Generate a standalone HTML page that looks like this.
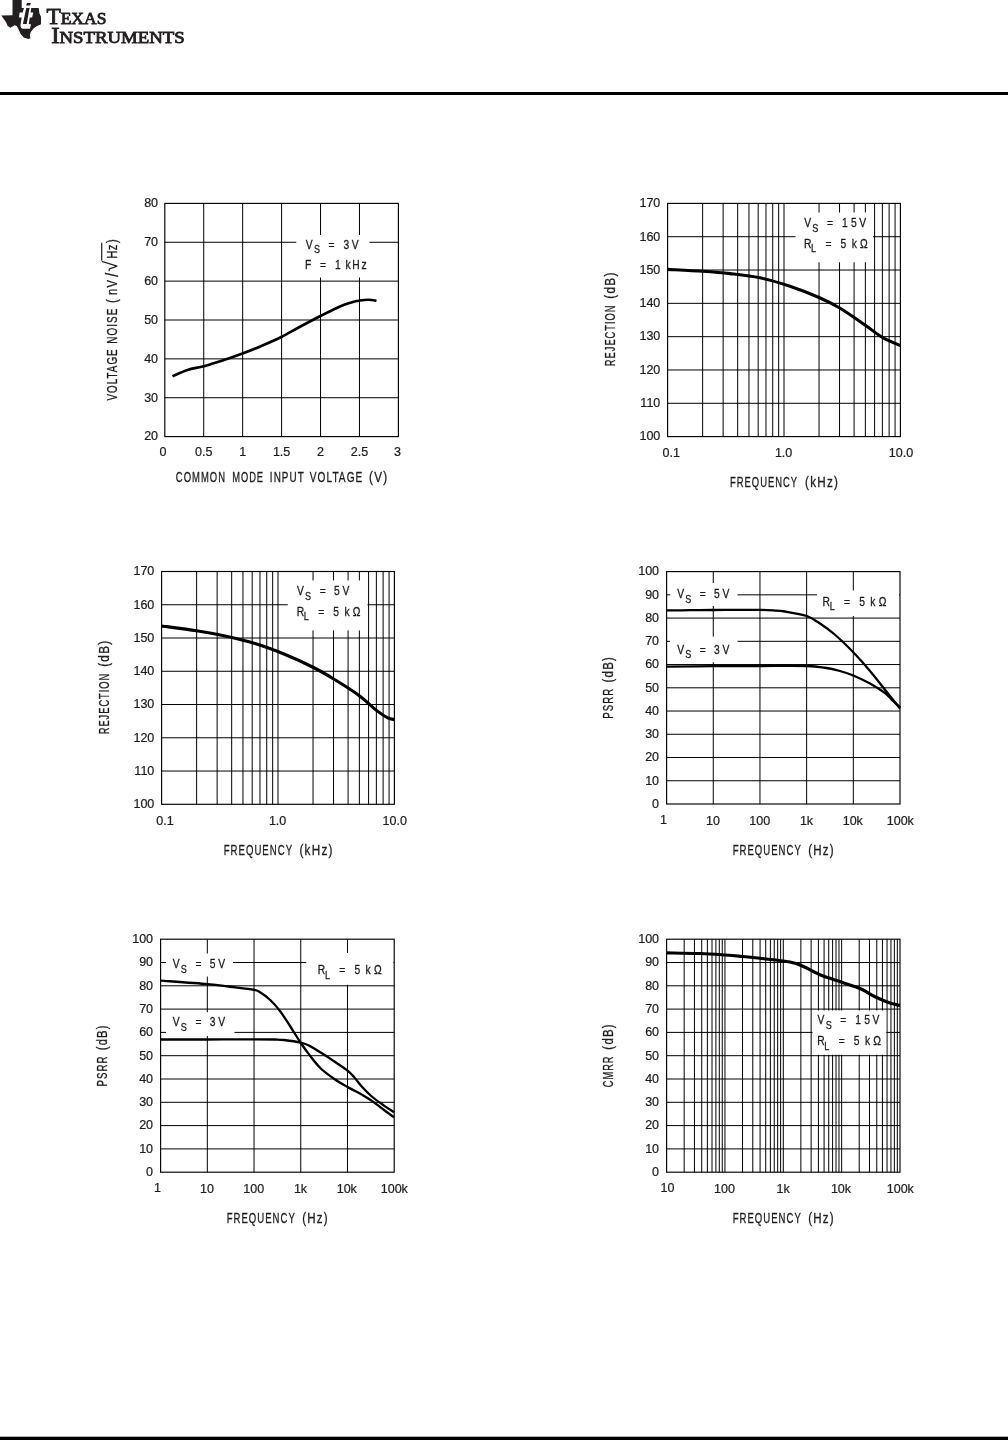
<!DOCTYPE html>
<html lang="en"><head><meta charset="utf-8"><title>Typical Performance Characteristics</title>
<style>html,body{margin:0;padding:0;background:#fff}body{width:1008px;height:1440px;overflow:hidden}svg{display:block}text{white-space:pre}</style></head>
<body>
<svg width="1008" height="1440" viewBox="0 0 1008 1440" font-family="&quot;Liberation Sans&quot;, sans-serif">
<rect width="1008" height="1440" fill="#fff"/>
<rect x="0.00" y="92.00" width="1008.00" height="3.00" fill="#000"/>
<rect x="0.00" y="1436.70" width="1008.00" height="3.30" fill="#000"/>
<g id="logo">
<path fill="#231f20" d="M12.5,0 L21.7,0 L21.7,7.9 L24,8.1 L22.6,12.5 L19.6,12.5 L19,17.5 L21.7,17.5 L20.4,25.8 Q20.6,28.6 22.8,28.75 L30,28.75 L31,24.2 L28.75,24 L29.8,17.5 L32.1,17.5 L33.3,12.5 L30.6,12.5 L31.25,8.1 L38.75,8.1 L39.4,13.3 L41,16.7 L41,24.2 L37.5,25.8 L33.75,28.3 L30.8,32.1 L29.8,35 L30.4,38.3 L28.3,39 L23.75,37.5 L20.8,34.2 L18.3,28.75 L16.7,26 L14.6,25.2 L10.4,27.7 L7.5,25.8 L6.25,22.5 L1.25,15.4 L12.5,15.2 Z"/>
<path fill="#231f20" d="M26.25,8.1 L29.6,8.1 L26.7,24 L22.9,24 Z M27.0,2.9 L30.8,2.9 L30.1,5.6 L26.2,5.6 Z"/>
<g font-family="&quot;Liberation Serif&quot;, serif" fill="#231f20" stroke="#231f20" stroke-width="0.85">
<text x="46.4" y="23.8" font-size="17" textLength="60" lengthAdjust="spacingAndGlyphs"><tspan font-size="22.7">T</tspan>EXAS</text>
<text x="51.2" y="42.5" font-size="17" textLength="133.5" lengthAdjust="spacingAndGlyphs"><tspan font-size="22.7">I</tspan>NSTRUMENTS</text>
</g></g>
<line x1="203.73" y1="203.40" x2="203.73" y2="436.60" stroke="#000" stroke-width="1"/>
<line x1="242.67" y1="203.40" x2="242.67" y2="436.60" stroke="#000" stroke-width="1"/>
<line x1="281.60" y1="203.40" x2="281.60" y2="436.60" stroke="#000" stroke-width="1"/>
<line x1="320.53" y1="203.40" x2="320.53" y2="436.60" stroke="#000" stroke-width="1"/>
<line x1="359.47" y1="203.40" x2="359.47" y2="436.60" stroke="#000" stroke-width="1"/>
<line x1="164.80" y1="242.27" x2="398.40" y2="242.27" stroke="#000" stroke-width="1"/>
<line x1="164.80" y1="281.13" x2="398.40" y2="281.13" stroke="#000" stroke-width="1"/>
<line x1="164.80" y1="320.00" x2="398.40" y2="320.00" stroke="#000" stroke-width="1"/>
<line x1="164.80" y1="358.87" x2="398.40" y2="358.87" stroke="#000" stroke-width="1"/>
<line x1="164.80" y1="397.73" x2="398.40" y2="397.73" stroke="#000" stroke-width="1"/>
<rect x="296.30" y="235.00" width="73.20" height="42.50" fill="#fff"/>
<rect x="164.80" y="203.40" width="233.60" height="233.20" fill="none" stroke="#000" stroke-width="1.15"/>
<path d="M172.50,376.25 C175.00,375.21 182.29,371.67 187.50,370.00 C192.71,368.33 197.92,367.83 203.75,366.25 C209.58,364.67 216.04,362.62 222.50,360.50 C228.96,358.38 235.83,356.00 242.50,353.50 C249.17,351.00 255.96,348.29 262.50,345.50 C269.04,342.71 275.50,339.88 281.75,336.75 C288.00,333.62 293.62,330.17 300.00,326.75 C306.38,323.33 313.33,319.62 320.00,316.25 C326.67,312.88 334.79,308.79 340.00,306.50 C345.21,304.21 347.92,303.50 351.25,302.50 C354.58,301.50 357.08,300.96 360.00,300.50 C362.92,300.04 366.00,299.71 368.75,299.75 C371.50,299.79 375.21,300.58 376.50,300.75" fill="none" stroke="#000" stroke-width="2.7" stroke-linejoin="round"/>
<text x="158.10" y="207.20" textLength="13.95" lengthAdjust="spacingAndGlyphs" font-size="13" text-anchor="end" fill="#1c1c1c" stroke="#1c1c1c" stroke-width="0.22">80</text>
<text x="158.10" y="246.07" textLength="13.95" lengthAdjust="spacingAndGlyphs" font-size="13" text-anchor="end" fill="#1c1c1c" stroke="#1c1c1c" stroke-width="0.22">70</text>
<text x="158.10" y="284.93" textLength="13.95" lengthAdjust="spacingAndGlyphs" font-size="13" text-anchor="end" fill="#1c1c1c" stroke="#1c1c1c" stroke-width="0.22">60</text>
<text x="158.10" y="323.80" textLength="13.95" lengthAdjust="spacingAndGlyphs" font-size="13" text-anchor="end" fill="#1c1c1c" stroke="#1c1c1c" stroke-width="0.22">50</text>
<text x="158.10" y="362.67" textLength="13.95" lengthAdjust="spacingAndGlyphs" font-size="13" text-anchor="end" fill="#1c1c1c" stroke="#1c1c1c" stroke-width="0.22">40</text>
<text x="158.10" y="401.53" textLength="13.95" lengthAdjust="spacingAndGlyphs" font-size="13" text-anchor="end" fill="#1c1c1c" stroke="#1c1c1c" stroke-width="0.22">30</text>
<text x="158.10" y="440.40" textLength="13.95" lengthAdjust="spacingAndGlyphs" font-size="13" text-anchor="end" fill="#1c1c1c" stroke="#1c1c1c" stroke-width="0.22">20</text>
<text x="163.00" y="456.20" textLength="6.98" lengthAdjust="spacingAndGlyphs" font-size="13" text-anchor="middle" fill="#1c1c1c" stroke="#1c1c1c" stroke-width="0.22">0</text>
<text x="203.73" y="456.20" textLength="17.44" lengthAdjust="spacingAndGlyphs" font-size="13" text-anchor="middle" fill="#1c1c1c" stroke="#1c1c1c" stroke-width="0.22">0.5</text>
<text x="242.67" y="456.20" textLength="6.98" lengthAdjust="spacingAndGlyphs" font-size="13" text-anchor="middle" fill="#1c1c1c" stroke="#1c1c1c" stroke-width="0.22">1</text>
<text x="281.60" y="456.20" textLength="17.44" lengthAdjust="spacingAndGlyphs" font-size="13" text-anchor="middle" fill="#1c1c1c" stroke="#1c1c1c" stroke-width="0.22">1.5</text>
<text x="320.53" y="456.20" textLength="6.98" lengthAdjust="spacingAndGlyphs" font-size="13" text-anchor="middle" fill="#1c1c1c" stroke="#1c1c1c" stroke-width="0.22">2</text>
<text x="359.47" y="456.20" textLength="17.44" lengthAdjust="spacingAndGlyphs" font-size="13" text-anchor="middle" fill="#1c1c1c" stroke="#1c1c1c" stroke-width="0.22">2.5</text>
<text x="397.50" y="456.20" textLength="6.98" lengthAdjust="spacingAndGlyphs" font-size="13" text-anchor="middle" fill="#1c1c1c" stroke="#1c1c1c" stroke-width="0.22">3</text>
<text y="481.75" font-size="14" fill="#1c1c1c" stroke="#1c1c1c" stroke-width="0.3" letter-spacing="1.5"><tspan x="175.85" textLength="50.13" lengthAdjust="spacingAndGlyphs">COMMON</tspan> <tspan x="232.15" textLength="31.92" lengthAdjust="spacingAndGlyphs">MODE</tspan> <tspan x="269.85" textLength="34.83" lengthAdjust="spacingAndGlyphs">INPUT</tspan> <tspan x="309.75" textLength="53.62" lengthAdjust="spacingAndGlyphs">VOLTAGE</tspan> <tspan x="369.05" textLength="19.32" lengthAdjust="spacingAndGlyphs">(V)</tspan></text>
<text transform="translate(116.60,400.55) rotate(-90)" y="0" font-size="14" fill="#1c1c1c" stroke="#1c1c1c" stroke-width="0.3" letter-spacing="1.5"><tspan x="0.00" textLength="52.23" lengthAdjust="spacingAndGlyphs">VOLTAGE</tspan> <tspan x="56.90" textLength="35.93" lengthAdjust="spacingAndGlyphs">NOISE</tspan></text>
<text xml:space="preserve" transform="translate(116.60,305.00) rotate(-90) scale(0.8,1)" x="4.69 16.38 26.56 37.75" y="0.00 0.00 0.00 1.20" font-size="14" text-anchor="middle" fill="#1c1c1c" stroke="#1c1c1c" stroke-width="0.3">(nV<tspan font-size="19">/</tspan></text>
<text transform="translate(116.9,271.7) rotate(-90) scale(1.03,1)" x="0" y="0" font-size="19.6" fill="#1c1c1c">√</text>
<line x1="101.70" y1="260.60" x2="101.70" y2="242.80" stroke="#1c1c1c" stroke-width="1.2"/>
<text xml:space="preserve" transform="translate(116.60,258.20) rotate(-90) scale(0.8,1)" x="4.25 13.37 21.25" y="0" font-size="14" text-anchor="middle" fill="#1c1c1c" stroke="#1c1c1c" stroke-width="0.3">Hz)</text>
<text xml:space="preserve" transform="translate(0,248.75) scale(0.78,1)" x="396.41 406.54 415.51 424.87 434.74 444.10 455.38" y="0.00 4.60 0.00 0.00 0.00 0.00 0.00" font-size="13.2" text-anchor="middle" fill="#1c1c1c" stroke="#1c1c1c" stroke-width="0.3">V<tspan font-size="11.6">S</tspan> = 3V</text>
<text xml:space="preserve" transform="translate(0,269.40) scale(0.78,1)" x="395.13 404.49 413.97 423.08 433.21 439.74 446.41 456.41 466.79" y="0" font-size="13.2" text-anchor="middle" fill="#1c1c1c" stroke="#1c1c1c" stroke-width="0.3">F = 1 kHz</text>
<line x1="702.64" y1="203.40" x2="702.64" y2="436.60" stroke="#000" stroke-width="1"/>
<line x1="723.14" y1="203.40" x2="723.14" y2="436.60" stroke="#000" stroke-width="1"/>
<line x1="737.68" y1="203.40" x2="737.68" y2="436.60" stroke="#000" stroke-width="1"/>
<line x1="748.96" y1="203.40" x2="748.96" y2="436.60" stroke="#000" stroke-width="1"/>
<line x1="758.18" y1="203.40" x2="758.18" y2="436.60" stroke="#000" stroke-width="1"/>
<line x1="765.97" y1="203.40" x2="765.97" y2="436.60" stroke="#000" stroke-width="1"/>
<line x1="772.72" y1="203.40" x2="772.72" y2="436.60" stroke="#000" stroke-width="1"/>
<line x1="778.67" y1="203.40" x2="778.67" y2="436.60" stroke="#000" stroke-width="1"/>
<line x1="784.00" y1="203.40" x2="784.00" y2="436.60" stroke="#000" stroke-width="1"/>
<line x1="819.04" y1="203.40" x2="819.04" y2="436.60" stroke="#000" stroke-width="1"/>
<line x1="839.54" y1="203.40" x2="839.54" y2="436.60" stroke="#000" stroke-width="1"/>
<line x1="854.08" y1="203.40" x2="854.08" y2="436.60" stroke="#000" stroke-width="1"/>
<line x1="865.36" y1="203.40" x2="865.36" y2="436.60" stroke="#000" stroke-width="1"/>
<line x1="874.58" y1="203.40" x2="874.58" y2="436.60" stroke="#000" stroke-width="1"/>
<line x1="882.37" y1="203.40" x2="882.37" y2="436.60" stroke="#000" stroke-width="1"/>
<line x1="889.12" y1="203.40" x2="889.12" y2="436.60" stroke="#000" stroke-width="1"/>
<line x1="895.07" y1="203.40" x2="895.07" y2="436.60" stroke="#000" stroke-width="1"/>
<line x1="667.60" y1="236.71" x2="900.40" y2="236.71" stroke="#000" stroke-width="1"/>
<line x1="667.60" y1="270.03" x2="900.40" y2="270.03" stroke="#000" stroke-width="1"/>
<line x1="667.60" y1="303.34" x2="900.40" y2="303.34" stroke="#000" stroke-width="1"/>
<line x1="667.60" y1="336.66" x2="900.40" y2="336.66" stroke="#000" stroke-width="1"/>
<line x1="667.60" y1="369.97" x2="900.40" y2="369.97" stroke="#000" stroke-width="1"/>
<line x1="667.60" y1="403.29" x2="900.40" y2="403.29" stroke="#000" stroke-width="1"/>
<rect x="795.60" y="212.50" width="77.40" height="49.80" fill="#fff"/>
<rect x="667.60" y="203.40" width="232.80" height="233.20" fill="none" stroke="#000" stroke-width="1.15"/>
<path d="M667.60,269.40 C673.43,269.72 692.20,270.60 702.60,271.30 C713.00,272.00 720.43,272.52 730.00,273.60 C739.57,274.68 750.00,275.69 760.00,277.80 C770.00,279.91 780.17,282.97 790.00,286.25 C799.83,289.53 810.71,293.88 819.00,297.50 C827.29,301.12 832.08,303.42 839.75,308.00 C847.42,312.58 857.88,320.08 865.00,325.00 C872.12,329.92 876.60,334.07 882.50,337.50 C888.40,340.93 897.42,344.25 900.40,345.60" fill="none" stroke="#000" stroke-width="3.1" stroke-linejoin="round"/>
<text x="660.35" y="207.20" textLength="20.93" lengthAdjust="spacingAndGlyphs" font-size="13" text-anchor="end" fill="#1c1c1c" stroke="#1c1c1c" stroke-width="0.22">170</text>
<text x="660.35" y="240.51" textLength="20.93" lengthAdjust="spacingAndGlyphs" font-size="13" text-anchor="end" fill="#1c1c1c" stroke="#1c1c1c" stroke-width="0.22">160</text>
<text x="660.35" y="273.83" textLength="20.93" lengthAdjust="spacingAndGlyphs" font-size="13" text-anchor="end" fill="#1c1c1c" stroke="#1c1c1c" stroke-width="0.22">150</text>
<text x="660.35" y="307.14" textLength="20.93" lengthAdjust="spacingAndGlyphs" font-size="13" text-anchor="end" fill="#1c1c1c" stroke="#1c1c1c" stroke-width="0.22">140</text>
<text x="660.35" y="340.46" textLength="20.93" lengthAdjust="spacingAndGlyphs" font-size="13" text-anchor="end" fill="#1c1c1c" stroke="#1c1c1c" stroke-width="0.22">130</text>
<text x="660.35" y="373.77" textLength="20.93" lengthAdjust="spacingAndGlyphs" font-size="13" text-anchor="end" fill="#1c1c1c" stroke="#1c1c1c" stroke-width="0.22">120</text>
<text x="660.35" y="407.09" textLength="20.00" lengthAdjust="spacingAndGlyphs" font-size="13" text-anchor="end" fill="#1c1c1c" stroke="#1c1c1c" stroke-width="0.22">110</text>
<text x="660.35" y="440.40" textLength="20.93" lengthAdjust="spacingAndGlyphs" font-size="13" text-anchor="end" fill="#1c1c1c" stroke="#1c1c1c" stroke-width="0.22">100</text>
<text x="671.20" y="457.00" textLength="17.44" lengthAdjust="spacingAndGlyphs" font-size="13" text-anchor="middle" fill="#1c1c1c" stroke="#1c1c1c" stroke-width="0.22">0.1</text>
<text x="783.60" y="457.00" textLength="17.44" lengthAdjust="spacingAndGlyphs" font-size="13" text-anchor="middle" fill="#1c1c1c" stroke="#1c1c1c" stroke-width="0.22">1.0</text>
<text x="901.00" y="457.00" textLength="24.42" lengthAdjust="spacingAndGlyphs" font-size="13" text-anchor="middle" fill="#1c1c1c" stroke="#1c1c1c" stroke-width="0.22">10.0</text>
<text y="487.00" font-size="14" fill="#1c1c1c" stroke="#1c1c1c" stroke-width="0.3" letter-spacing="1.5"><tspan x="730.05" textLength="67.87" lengthAdjust="spacingAndGlyphs">FREQUENCY</tspan> <tspan x="805.05" textLength="34.12" lengthAdjust="spacingAndGlyphs">(kHz)</tspan></text>
<text transform="translate(614.50,366.15) rotate(-90)" y="0" font-size="14.2" fill="#1c1c1c" stroke="#1c1c1c" stroke-width="0.3" letter-spacing="1.5"><tspan x="0.00" textLength="61.58" lengthAdjust="spacingAndGlyphs">REJECTION</tspan> <tspan x="67.50" textLength="27.23" lengthAdjust="spacingAndGlyphs">(dB)</tspan></text>
<text xml:space="preserve" transform="translate(0,227.25) scale(0.78,1)" x="1035.64 1045.38 1054.49 1064.10 1073.08 1083.08 1094.74 1105.90" y="0.00 4.60 0.00 0.00 0.00 0.00 0.00 0.00" font-size="13.2" text-anchor="middle" fill="#1c1c1c" stroke="#1c1c1c" stroke-width="0.3">V<tspan font-size="11.6">S</tspan> = 15V</text>
<text xml:space="preserve" transform="translate(0,247.75) scale(0.78,1)" x="1035.51 1043.08 1052.44 1062.18 1071.67 1081.41 1088.33 1095.26 1107.56" y="0.00 4.60 0.00 0.00 0.00 0.00 0.00 0.00 0.00" font-size="13.2" text-anchor="middle" fill="#1c1c1c" stroke="#1c1c1c" stroke-width="0.3">R<tspan font-size="11.6">L</tspan> = 5 kΩ</text>
<line x1="196.64" y1="571.50" x2="196.64" y2="804.30" stroke="#000" stroke-width="1"/>
<line x1="217.14" y1="571.50" x2="217.14" y2="804.30" stroke="#000" stroke-width="1"/>
<line x1="231.68" y1="571.50" x2="231.68" y2="804.30" stroke="#000" stroke-width="1"/>
<line x1="242.96" y1="571.50" x2="242.96" y2="804.30" stroke="#000" stroke-width="1"/>
<line x1="252.18" y1="571.50" x2="252.18" y2="804.30" stroke="#000" stroke-width="1"/>
<line x1="259.97" y1="571.50" x2="259.97" y2="804.30" stroke="#000" stroke-width="1"/>
<line x1="266.72" y1="571.50" x2="266.72" y2="804.30" stroke="#000" stroke-width="1"/>
<line x1="272.67" y1="571.50" x2="272.67" y2="804.30" stroke="#000" stroke-width="1"/>
<line x1="278.00" y1="571.50" x2="278.00" y2="804.30" stroke="#000" stroke-width="1"/>
<line x1="313.04" y1="571.50" x2="313.04" y2="804.30" stroke="#000" stroke-width="1"/>
<line x1="333.54" y1="571.50" x2="333.54" y2="804.30" stroke="#000" stroke-width="1"/>
<line x1="348.08" y1="571.50" x2="348.08" y2="804.30" stroke="#000" stroke-width="1"/>
<line x1="359.36" y1="571.50" x2="359.36" y2="804.30" stroke="#000" stroke-width="1"/>
<line x1="368.58" y1="571.50" x2="368.58" y2="804.30" stroke="#000" stroke-width="1"/>
<line x1="376.37" y1="571.50" x2="376.37" y2="804.30" stroke="#000" stroke-width="1"/>
<line x1="383.12" y1="571.50" x2="383.12" y2="804.30" stroke="#000" stroke-width="1"/>
<line x1="389.07" y1="571.50" x2="389.07" y2="804.30" stroke="#000" stroke-width="1"/>
<line x1="161.60" y1="604.76" x2="394.40" y2="604.76" stroke="#000" stroke-width="1"/>
<line x1="161.60" y1="638.01" x2="394.40" y2="638.01" stroke="#000" stroke-width="1"/>
<line x1="161.60" y1="671.27" x2="394.40" y2="671.27" stroke="#000" stroke-width="1"/>
<line x1="161.60" y1="704.53" x2="394.40" y2="704.53" stroke="#000" stroke-width="1"/>
<line x1="161.60" y1="737.79" x2="394.40" y2="737.79" stroke="#000" stroke-width="1"/>
<line x1="161.60" y1="771.04" x2="394.40" y2="771.04" stroke="#000" stroke-width="1"/>
<rect x="287.75" y="580.40" width="79.75" height="50.00" fill="#fff"/>
<rect x="161.60" y="571.50" width="232.80" height="232.80" fill="none" stroke="#000" stroke-width="1.15"/>
<path d="M161.60,626.00 C167.43,626.79 186.03,629.08 196.60,630.75 C207.17,632.42 215.27,633.88 225.00,636.00 C234.73,638.12 245.17,640.50 255.00,643.50 C264.83,646.50 274.33,650.04 284.00,654.00 C293.67,657.96 304.71,663.08 313.00,667.25 C321.29,671.42 326.08,674.31 333.75,679.00 C341.42,683.69 351.88,690.17 359.00,695.40 C366.12,700.63 371.71,706.65 376.50,710.40 C381.29,714.15 384.77,716.38 387.75,717.90 C390.73,719.42 393.29,719.23 394.40,719.50" fill="none" stroke="#000" stroke-width="3.1" stroke-linejoin="round"/>
<text x="154.35" y="575.30" textLength="20.93" lengthAdjust="spacingAndGlyphs" font-size="13" text-anchor="end" fill="#1c1c1c" stroke="#1c1c1c" stroke-width="0.22">170</text>
<text x="154.35" y="608.56" textLength="20.93" lengthAdjust="spacingAndGlyphs" font-size="13" text-anchor="end" fill="#1c1c1c" stroke="#1c1c1c" stroke-width="0.22">160</text>
<text x="154.35" y="641.81" textLength="20.93" lengthAdjust="spacingAndGlyphs" font-size="13" text-anchor="end" fill="#1c1c1c" stroke="#1c1c1c" stroke-width="0.22">150</text>
<text x="154.35" y="675.07" textLength="20.93" lengthAdjust="spacingAndGlyphs" font-size="13" text-anchor="end" fill="#1c1c1c" stroke="#1c1c1c" stroke-width="0.22">140</text>
<text x="154.35" y="708.33" textLength="20.93" lengthAdjust="spacingAndGlyphs" font-size="13" text-anchor="end" fill="#1c1c1c" stroke="#1c1c1c" stroke-width="0.22">130</text>
<text x="154.35" y="741.59" textLength="20.93" lengthAdjust="spacingAndGlyphs" font-size="13" text-anchor="end" fill="#1c1c1c" stroke="#1c1c1c" stroke-width="0.22">120</text>
<text x="154.35" y="774.84" textLength="20.00" lengthAdjust="spacingAndGlyphs" font-size="13" text-anchor="end" fill="#1c1c1c" stroke="#1c1c1c" stroke-width="0.22">110</text>
<text x="154.35" y="808.10" textLength="20.93" lengthAdjust="spacingAndGlyphs" font-size="13" text-anchor="end" fill="#1c1c1c" stroke="#1c1c1c" stroke-width="0.22">100</text>
<text x="165.00" y="825.00" textLength="17.44" lengthAdjust="spacingAndGlyphs" font-size="13" text-anchor="middle" fill="#1c1c1c" stroke="#1c1c1c" stroke-width="0.22">0.1</text>
<text x="277.60" y="825.00" textLength="17.44" lengthAdjust="spacingAndGlyphs" font-size="13" text-anchor="middle" fill="#1c1c1c" stroke="#1c1c1c" stroke-width="0.22">1.0</text>
<text x="394.80" y="825.00" textLength="24.42" lengthAdjust="spacingAndGlyphs" font-size="13" text-anchor="middle" fill="#1c1c1c" stroke="#1c1c1c" stroke-width="0.22">10.0</text>
<text y="855.00" font-size="14" fill="#1c1c1c" stroke="#1c1c1c" stroke-width="0.3" letter-spacing="1.5"><tspan x="223.70" textLength="69.22" lengthAdjust="spacingAndGlyphs">FREQUENCY</tspan> <tspan x="299.45" textLength="34.23" lengthAdjust="spacingAndGlyphs">(kHz)</tspan></text>
<text transform="translate(108.50,734.30) rotate(-90)" y="0" font-size="14.2" fill="#1c1c1c" stroke="#1c1c1c" stroke-width="0.3" letter-spacing="1.5"><tspan x="0.00" textLength="61.58" lengthAdjust="spacingAndGlyphs">REJECTION</tspan> <tspan x="67.50" textLength="27.23" lengthAdjust="spacingAndGlyphs">(dB)</tspan></text>
<text xml:space="preserve" transform="translate(0,595.40) scale(0.78,1)" x="385.32 395.06 404.17 413.78 422.76 431.99 443.53" y="0.00 4.60 0.00 0.00 0.00 0.00 0.00" font-size="13.2" text-anchor="middle" fill="#1c1c1c" stroke="#1c1c1c" stroke-width="0.3">V<tspan font-size="11.6">S</tspan> = 5V</text>
<text xml:space="preserve" transform="translate(0,615.75) scale(0.78,1)" x="385.13 392.69 402.05 411.79 421.28 431.03 437.95 444.87 457.18" y="0.00 4.60 0.00 0.00 0.00 0.00 0.00 0.00 0.00" font-size="13.2" text-anchor="middle" fill="#1c1c1c" stroke="#1c1c1c" stroke-width="0.3">R<tspan font-size="11.6">L</tspan> = 5 kΩ</text>
<line x1="713.28" y1="571.60" x2="713.28" y2="804.00" stroke="#000" stroke-width="1"/>
<line x1="759.96" y1="571.60" x2="759.96" y2="804.00" stroke="#000" stroke-width="1"/>
<line x1="806.64" y1="571.60" x2="806.64" y2="804.00" stroke="#000" stroke-width="1"/>
<line x1="853.32" y1="571.60" x2="853.32" y2="804.00" stroke="#000" stroke-width="1"/>
<line x1="666.60" y1="594.84" x2="900.00" y2="594.84" stroke="#000" stroke-width="1"/>
<line x1="666.60" y1="618.08" x2="900.00" y2="618.08" stroke="#000" stroke-width="1"/>
<line x1="666.60" y1="641.32" x2="900.00" y2="641.32" stroke="#000" stroke-width="1"/>
<line x1="666.60" y1="664.56" x2="900.00" y2="664.56" stroke="#000" stroke-width="1"/>
<line x1="666.60" y1="687.80" x2="900.00" y2="687.80" stroke="#000" stroke-width="1"/>
<line x1="666.60" y1="711.04" x2="900.00" y2="711.04" stroke="#000" stroke-width="1"/>
<line x1="666.60" y1="734.28" x2="900.00" y2="734.28" stroke="#000" stroke-width="1"/>
<line x1="666.60" y1="757.52" x2="900.00" y2="757.52" stroke="#000" stroke-width="1"/>
<line x1="666.60" y1="780.76" x2="900.00" y2="780.76" stroke="#000" stroke-width="1"/>
<rect x="670.00" y="583.00" width="67.50" height="23.00" fill="#fff"/>
<rect x="670.00" y="636.60" width="67.50" height="25.65" fill="#fff"/>
<rect x="817.00" y="590.40" width="82.00" height="25.60" fill="#fff"/>
<rect x="666.60" y="571.60" width="233.40" height="232.40" fill="none" stroke="#000" stroke-width="1.15"/>
<path d="M666.60,610.40 C670.50,610.37 682.27,610.27 690.00,610.20 C697.73,610.13 705.17,610.06 713.00,610.00 C720.83,609.94 729.17,609.87 737.00,609.85 C744.83,609.83 754.00,609.81 760.00,609.90 C766.00,609.99 768.83,610.13 773.00,610.40 C777.17,610.67 779.38,610.57 785.00,611.50 C790.62,612.43 800.92,614.00 806.75,616.00 C812.58,618.00 815.29,620.38 820.00,623.50 C824.71,626.62 829.46,629.96 835.00,634.75 C840.54,639.54 847.42,646.21 853.25,652.25 C859.08,658.29 864.71,664.75 870.00,671.00 C875.29,677.25 880.00,683.50 885.00,689.75 C890.00,696.00 897.50,705.38 900.00,708.50" fill="none" stroke="#000" stroke-width="2.3" stroke-linejoin="round"/>
<path d="M666.60,666.60 C674.33,666.53 697.43,666.30 713.00,666.20 C728.57,666.10 744.38,666.03 760.00,666.00 C775.62,665.97 795.92,665.71 806.75,666.00 C817.58,666.29 819.46,666.92 825.00,667.75 C830.54,668.58 835.29,669.71 840.00,671.00 C844.71,672.29 848.25,673.42 853.25,675.50 C858.25,677.58 864.71,680.58 870.00,683.50 C875.29,686.42 881.17,690.08 885.00,693.00 C888.83,695.92 890.50,698.62 893.00,701.00 C895.50,703.38 898.83,706.21 900.00,707.25" fill="none" stroke="#000" stroke-width="2.3" stroke-linejoin="round"/>
<text x="659.10" y="575.40" textLength="20.93" lengthAdjust="spacingAndGlyphs" font-size="13" text-anchor="end" fill="#1c1c1c" stroke="#1c1c1c" stroke-width="0.22">100</text>
<text x="659.10" y="598.64" textLength="13.95" lengthAdjust="spacingAndGlyphs" font-size="13" text-anchor="end" fill="#1c1c1c" stroke="#1c1c1c" stroke-width="0.22">90</text>
<text x="659.10" y="621.88" textLength="13.95" lengthAdjust="spacingAndGlyphs" font-size="13" text-anchor="end" fill="#1c1c1c" stroke="#1c1c1c" stroke-width="0.22">80</text>
<text x="659.10" y="645.12" textLength="13.95" lengthAdjust="spacingAndGlyphs" font-size="13" text-anchor="end" fill="#1c1c1c" stroke="#1c1c1c" stroke-width="0.22">70</text>
<text x="659.10" y="668.36" textLength="13.95" lengthAdjust="spacingAndGlyphs" font-size="13" text-anchor="end" fill="#1c1c1c" stroke="#1c1c1c" stroke-width="0.22">60</text>
<text x="659.10" y="691.60" textLength="13.95" lengthAdjust="spacingAndGlyphs" font-size="13" text-anchor="end" fill="#1c1c1c" stroke="#1c1c1c" stroke-width="0.22">50</text>
<text x="659.10" y="714.84" textLength="13.95" lengthAdjust="spacingAndGlyphs" font-size="13" text-anchor="end" fill="#1c1c1c" stroke="#1c1c1c" stroke-width="0.22">40</text>
<text x="659.10" y="738.08" textLength="13.95" lengthAdjust="spacingAndGlyphs" font-size="13" text-anchor="end" fill="#1c1c1c" stroke="#1c1c1c" stroke-width="0.22">30</text>
<text x="659.10" y="761.32" textLength="13.95" lengthAdjust="spacingAndGlyphs" font-size="13" text-anchor="end" fill="#1c1c1c" stroke="#1c1c1c" stroke-width="0.22">20</text>
<text x="659.10" y="784.56" textLength="13.95" lengthAdjust="spacingAndGlyphs" font-size="13" text-anchor="end" fill="#1c1c1c" stroke="#1c1c1c" stroke-width="0.22">10</text>
<text x="659.10" y="807.80" textLength="6.98" lengthAdjust="spacingAndGlyphs" font-size="13" text-anchor="end" fill="#1c1c1c" stroke="#1c1c1c" stroke-width="0.22">0</text>
<text x="663.40" y="823.80" textLength="6.98" lengthAdjust="spacingAndGlyphs" font-size="13" text-anchor="middle" fill="#1c1c1c" stroke="#1c1c1c" stroke-width="0.22">1</text>
<text x="713.00" y="825.00" textLength="13.95" lengthAdjust="spacingAndGlyphs" font-size="13" text-anchor="middle" fill="#1c1c1c" stroke="#1c1c1c" stroke-width="0.22">10</text>
<text x="759.80" y="825.00" textLength="20.93" lengthAdjust="spacingAndGlyphs" font-size="13" text-anchor="middle" fill="#1c1c1c" stroke="#1c1c1c" stroke-width="0.22">100</text>
<text x="806.50" y="825.00" textLength="13.25" lengthAdjust="spacingAndGlyphs" font-size="13" text-anchor="middle" fill="#1c1c1c" stroke="#1c1c1c" stroke-width="0.22">1k</text>
<text x="852.80" y="825.00" textLength="20.23" lengthAdjust="spacingAndGlyphs" font-size="13" text-anchor="middle" fill="#1c1c1c" stroke="#1c1c1c" stroke-width="0.22">10k</text>
<text x="900.30" y="825.00" textLength="27.20" lengthAdjust="spacingAndGlyphs" font-size="13" text-anchor="middle" fill="#1c1c1c" stroke="#1c1c1c" stroke-width="0.22">100k</text>
<text y="855.00" font-size="14" fill="#1c1c1c" stroke="#1c1c1c" stroke-width="0.3" letter-spacing="1.5"><tspan x="732.70" textLength="68.97" lengthAdjust="spacingAndGlyphs">FREQUENCY</tspan> <tspan x="808.20" textLength="26.73" lengthAdjust="spacingAndGlyphs">(Hz)</tspan></text>
<text transform="translate(613.25,718.65) rotate(-90)" y="0" font-size="14.2" fill="#1c1c1c" stroke="#1c1c1c" stroke-width="0.3" letter-spacing="1.5"><tspan x="0.00" textLength="30.93" lengthAdjust="spacingAndGlyphs">PSRR</tspan> <tspan x="36.20" textLength="26.62" lengthAdjust="spacingAndGlyphs">(dB)</tspan></text>
<text xml:space="preserve" transform="translate(0,597.90) scale(0.78,1)" x="872.56 882.31 891.41 901.03 910.00 919.23 930.77" y="0.00 4.60 0.00 0.00 0.00 0.00 0.00" font-size="13.2" text-anchor="middle" fill="#1c1c1c" stroke="#1c1c1c" stroke-width="0.3">V<tspan font-size="11.6">S</tspan> = 5V</text>
<text xml:space="preserve" transform="translate(0,653.50) scale(0.78,1)" x="872.56 882.31 891.41 901.03 910.00 919.23 930.77" y="0.00 4.60 0.00 0.00 0.00 0.00 0.00" font-size="13.2" text-anchor="middle" fill="#1c1c1c" stroke="#1c1c1c" stroke-width="0.3">V<tspan font-size="11.6">S</tspan> = 3V</text>
<text xml:space="preserve" transform="translate(0,605.75) scale(0.78,1)" x="1059.36 1066.92 1076.28 1086.03 1095.51 1105.26 1112.18 1119.10 1131.41" y="0.00 4.60 0.00 0.00 0.00 0.00 0.00 0.00 0.00" font-size="13.2" text-anchor="middle" fill="#1c1c1c" stroke="#1c1c1c" stroke-width="0.3">R<tspan font-size="11.6">L</tspan> = 5 kΩ</text>
<line x1="207.32" y1="939.20" x2="207.32" y2="1172.20" stroke="#000" stroke-width="1"/>
<line x1="254.04" y1="939.20" x2="254.04" y2="1172.20" stroke="#000" stroke-width="1"/>
<line x1="300.76" y1="939.20" x2="300.76" y2="1172.20" stroke="#000" stroke-width="1"/>
<line x1="347.48" y1="939.20" x2="347.48" y2="1172.20" stroke="#000" stroke-width="1"/>
<line x1="160.60" y1="962.50" x2="394.20" y2="962.50" stroke="#000" stroke-width="1"/>
<line x1="160.60" y1="985.80" x2="394.20" y2="985.80" stroke="#000" stroke-width="1"/>
<line x1="160.60" y1="1009.10" x2="394.20" y2="1009.10" stroke="#000" stroke-width="1"/>
<line x1="160.60" y1="1032.40" x2="394.20" y2="1032.40" stroke="#000" stroke-width="1"/>
<line x1="160.60" y1="1055.70" x2="394.20" y2="1055.70" stroke="#000" stroke-width="1"/>
<line x1="160.60" y1="1079.00" x2="394.20" y2="1079.00" stroke="#000" stroke-width="1"/>
<line x1="160.60" y1="1102.30" x2="394.20" y2="1102.30" stroke="#000" stroke-width="1"/>
<line x1="160.60" y1="1125.60" x2="394.20" y2="1125.60" stroke="#000" stroke-width="1"/>
<line x1="160.60" y1="1148.90" x2="394.20" y2="1148.90" stroke="#000" stroke-width="1"/>
<rect x="166.00" y="953.50" width="67.00" height="23.10" fill="#fff"/>
<rect x="166.00" y="1012.25" width="68.50" height="23.75" fill="#fff"/>
<rect x="306.25" y="953.00" width="87.15" height="31.75" fill="#fff"/>
<rect x="160.60" y="939.20" width="233.60" height="233.00" fill="none" stroke="#000" stroke-width="1.15"/>
<path d="M160.60,980.60 C168.42,981.18 195.93,983.08 207.50,984.10 C219.07,985.12 222.29,985.81 230.00,986.75 C237.71,987.69 248.75,988.83 253.75,989.75 C258.75,990.67 257.29,990.58 260.00,992.25 C262.71,993.92 266.67,996.62 270.00,999.75 C273.33,1002.88 276.67,1006.62 280.00,1011.00 C283.33,1015.38 286.58,1020.75 290.00,1026.00 C293.42,1031.25 297.33,1037.77 300.50,1042.50 C303.67,1047.23 305.71,1050.15 309.00,1054.40 C312.29,1058.65 316.08,1063.94 320.25,1068.00 C324.42,1072.06 329.46,1075.58 334.00,1078.75 C338.54,1081.92 343.33,1084.62 347.50,1087.00 C351.67,1089.38 355.00,1090.73 359.00,1093.00 C363.00,1095.27 367.33,1097.77 371.50,1100.60 C375.67,1103.43 380.25,1107.22 384.00,1110.00 C387.75,1112.78 392.33,1116.04 394.00,1117.25" fill="none" stroke="#000" stroke-width="2.3" stroke-linejoin="round"/>
<path d="M160.60,1039.50 C168.42,1039.50 191.97,1039.53 207.50,1039.50 C223.03,1039.47 242.50,1039.30 253.75,1039.30 C265.00,1039.30 269.96,1039.38 275.00,1039.50 C280.04,1039.62 279.75,1039.50 284.00,1040.00 C288.25,1040.50 296.33,1041.57 300.50,1042.50 C304.67,1043.43 305.50,1043.85 309.00,1045.60 C312.50,1047.35 317.33,1050.39 321.50,1053.00 C325.67,1055.61 329.67,1058.32 334.00,1061.25 C338.33,1064.18 344.17,1067.99 347.50,1070.60 C350.83,1073.21 351.67,1074.29 354.00,1076.90 C356.33,1079.51 358.58,1083.03 361.50,1086.25 C364.42,1089.47 367.75,1093.03 371.50,1096.25 C375.25,1099.47 380.25,1102.93 384.00,1105.60 C387.75,1108.27 392.33,1111.14 394.00,1112.25" fill="none" stroke="#000" stroke-width="2.3" stroke-linejoin="round"/>
<text x="153.10" y="943.00" textLength="20.93" lengthAdjust="spacingAndGlyphs" font-size="13" text-anchor="end" fill="#1c1c1c" stroke="#1c1c1c" stroke-width="0.22">100</text>
<text x="153.10" y="966.30" textLength="13.95" lengthAdjust="spacingAndGlyphs" font-size="13" text-anchor="end" fill="#1c1c1c" stroke="#1c1c1c" stroke-width="0.22">90</text>
<text x="153.10" y="989.60" textLength="13.95" lengthAdjust="spacingAndGlyphs" font-size="13" text-anchor="end" fill="#1c1c1c" stroke="#1c1c1c" stroke-width="0.22">80</text>
<text x="153.10" y="1012.90" textLength="13.95" lengthAdjust="spacingAndGlyphs" font-size="13" text-anchor="end" fill="#1c1c1c" stroke="#1c1c1c" stroke-width="0.22">70</text>
<text x="153.10" y="1036.20" textLength="13.95" lengthAdjust="spacingAndGlyphs" font-size="13" text-anchor="end" fill="#1c1c1c" stroke="#1c1c1c" stroke-width="0.22">60</text>
<text x="153.10" y="1059.50" textLength="13.95" lengthAdjust="spacingAndGlyphs" font-size="13" text-anchor="end" fill="#1c1c1c" stroke="#1c1c1c" stroke-width="0.22">50</text>
<text x="153.10" y="1082.80" textLength="13.95" lengthAdjust="spacingAndGlyphs" font-size="13" text-anchor="end" fill="#1c1c1c" stroke="#1c1c1c" stroke-width="0.22">40</text>
<text x="153.10" y="1106.10" textLength="13.95" lengthAdjust="spacingAndGlyphs" font-size="13" text-anchor="end" fill="#1c1c1c" stroke="#1c1c1c" stroke-width="0.22">30</text>
<text x="153.10" y="1129.40" textLength="13.95" lengthAdjust="spacingAndGlyphs" font-size="13" text-anchor="end" fill="#1c1c1c" stroke="#1c1c1c" stroke-width="0.22">20</text>
<text x="153.10" y="1152.70" textLength="13.95" lengthAdjust="spacingAndGlyphs" font-size="13" text-anchor="end" fill="#1c1c1c" stroke="#1c1c1c" stroke-width="0.22">10</text>
<text x="153.10" y="1176.00" textLength="6.98" lengthAdjust="spacingAndGlyphs" font-size="13" text-anchor="end" fill="#1c1c1c" stroke="#1c1c1c" stroke-width="0.22">0</text>
<text x="157.40" y="1191.80" textLength="6.98" lengthAdjust="spacingAndGlyphs" font-size="13" text-anchor="middle" fill="#1c1c1c" stroke="#1c1c1c" stroke-width="0.22">1</text>
<text x="207.00" y="1193.00" textLength="13.95" lengthAdjust="spacingAndGlyphs" font-size="13" text-anchor="middle" fill="#1c1c1c" stroke="#1c1c1c" stroke-width="0.22">10</text>
<text x="253.80" y="1193.00" textLength="20.93" lengthAdjust="spacingAndGlyphs" font-size="13" text-anchor="middle" fill="#1c1c1c" stroke="#1c1c1c" stroke-width="0.22">100</text>
<text x="300.50" y="1193.00" textLength="13.25" lengthAdjust="spacingAndGlyphs" font-size="13" text-anchor="middle" fill="#1c1c1c" stroke="#1c1c1c" stroke-width="0.22">1k</text>
<text x="346.80" y="1193.00" textLength="20.23" lengthAdjust="spacingAndGlyphs" font-size="13" text-anchor="middle" fill="#1c1c1c" stroke="#1c1c1c" stroke-width="0.22">10k</text>
<text x="394.30" y="1193.00" textLength="27.20" lengthAdjust="spacingAndGlyphs" font-size="13" text-anchor="middle" fill="#1c1c1c" stroke="#1c1c1c" stroke-width="0.22">100k</text>
<text y="1223.00" font-size="14" fill="#1c1c1c" stroke="#1c1c1c" stroke-width="0.3" letter-spacing="1.5"><tspan x="226.70" textLength="68.97" lengthAdjust="spacingAndGlyphs">FREQUENCY</tspan> <tspan x="302.20" textLength="26.73" lengthAdjust="spacingAndGlyphs">(Hz)</tspan></text>
<text transform="translate(107.25,1086.55) rotate(-90)" y="0" font-size="14.2" fill="#1c1c1c" stroke="#1c1c1c" stroke-width="0.3" letter-spacing="1.5"><tspan x="0.00" textLength="30.98" lengthAdjust="spacingAndGlyphs">PSRR</tspan> <tspan x="36.25" textLength="25.98" lengthAdjust="spacingAndGlyphs">(dB)</tspan></text>
<text xml:space="preserve" transform="translate(0,967.90) scale(0.78,1)" x="226.03 235.77 244.87 254.49 263.46 272.69 284.23" y="0.00 4.60 0.00 0.00 0.00 0.00 0.00" font-size="13.2" text-anchor="middle" fill="#1c1c1c" stroke="#1c1c1c" stroke-width="0.3">V<tspan font-size="11.6">S</tspan> = 5V</text>
<text xml:space="preserve" transform="translate(0,1026.00) scale(0.78,1)" x="226.03 235.77 244.87 254.49 263.46 272.69 284.23" y="0.00 4.60 0.00 0.00 0.00 0.00 0.00" font-size="13.2" text-anchor="middle" fill="#1c1c1c" stroke="#1c1c1c" stroke-width="0.3">V<tspan font-size="11.6">S</tspan> = 3V</text>
<text xml:space="preserve" transform="translate(0,974.25) scale(0.78,1)" x="412.24 419.81 429.17 438.91 448.40 458.14 465.06 471.99 484.29" y="0.00 4.60 0.00 0.00 0.00 0.00 0.00 0.00 0.00" font-size="13.2" text-anchor="middle" fill="#1c1c1c" stroke="#1c1c1c" stroke-width="0.3">R<tspan font-size="11.6">L</tspan> = 5 kΩ</text>
<line x1="684.17" y1="939.20" x2="684.17" y2="1172.20" stroke="#000" stroke-width="1"/>
<line x1="694.44" y1="939.20" x2="694.44" y2="1172.20" stroke="#000" stroke-width="1"/>
<line x1="701.73" y1="939.20" x2="701.73" y2="1172.20" stroke="#000" stroke-width="1"/>
<line x1="707.38" y1="939.20" x2="707.38" y2="1172.20" stroke="#000" stroke-width="1"/>
<line x1="712.01" y1="939.20" x2="712.01" y2="1172.20" stroke="#000" stroke-width="1"/>
<line x1="715.91" y1="939.20" x2="715.91" y2="1172.20" stroke="#000" stroke-width="1"/>
<line x1="719.30" y1="939.20" x2="719.30" y2="1172.20" stroke="#000" stroke-width="1"/>
<line x1="722.28" y1="939.20" x2="722.28" y2="1172.20" stroke="#000" stroke-width="1"/>
<line x1="724.95" y1="939.20" x2="724.95" y2="1172.20" stroke="#000" stroke-width="1"/>
<line x1="742.52" y1="939.20" x2="742.52" y2="1172.20" stroke="#000" stroke-width="1"/>
<line x1="752.79" y1="939.20" x2="752.79" y2="1172.20" stroke="#000" stroke-width="1"/>
<line x1="760.08" y1="939.20" x2="760.08" y2="1172.20" stroke="#000" stroke-width="1"/>
<line x1="765.73" y1="939.20" x2="765.73" y2="1172.20" stroke="#000" stroke-width="1"/>
<line x1="770.36" y1="939.20" x2="770.36" y2="1172.20" stroke="#000" stroke-width="1"/>
<line x1="774.26" y1="939.20" x2="774.26" y2="1172.20" stroke="#000" stroke-width="1"/>
<line x1="777.65" y1="939.20" x2="777.65" y2="1172.20" stroke="#000" stroke-width="1"/>
<line x1="780.63" y1="939.20" x2="780.63" y2="1172.20" stroke="#000" stroke-width="1"/>
<line x1="783.30" y1="939.20" x2="783.30" y2="1172.20" stroke="#000" stroke-width="1"/>
<line x1="800.87" y1="939.20" x2="800.87" y2="1172.20" stroke="#000" stroke-width="1"/>
<line x1="811.14" y1="939.20" x2="811.14" y2="1172.20" stroke="#000" stroke-width="1"/>
<line x1="818.43" y1="939.20" x2="818.43" y2="1172.20" stroke="#000" stroke-width="1"/>
<line x1="824.08" y1="939.20" x2="824.08" y2="1172.20" stroke="#000" stroke-width="1"/>
<line x1="828.71" y1="939.20" x2="828.71" y2="1172.20" stroke="#000" stroke-width="1"/>
<line x1="832.61" y1="939.20" x2="832.61" y2="1172.20" stroke="#000" stroke-width="1"/>
<line x1="836.00" y1="939.20" x2="836.00" y2="1172.20" stroke="#000" stroke-width="1"/>
<line x1="838.98" y1="939.20" x2="838.98" y2="1172.20" stroke="#000" stroke-width="1"/>
<line x1="841.65" y1="939.20" x2="841.65" y2="1172.20" stroke="#000" stroke-width="1"/>
<line x1="859.22" y1="939.20" x2="859.22" y2="1172.20" stroke="#000" stroke-width="1"/>
<line x1="869.49" y1="939.20" x2="869.49" y2="1172.20" stroke="#000" stroke-width="1"/>
<line x1="876.78" y1="939.20" x2="876.78" y2="1172.20" stroke="#000" stroke-width="1"/>
<line x1="882.43" y1="939.20" x2="882.43" y2="1172.20" stroke="#000" stroke-width="1"/>
<line x1="887.06" y1="939.20" x2="887.06" y2="1172.20" stroke="#000" stroke-width="1"/>
<line x1="890.96" y1="939.20" x2="890.96" y2="1172.20" stroke="#000" stroke-width="1"/>
<line x1="894.35" y1="939.20" x2="894.35" y2="1172.20" stroke="#000" stroke-width="1"/>
<line x1="897.33" y1="939.20" x2="897.33" y2="1172.20" stroke="#000" stroke-width="1"/>
<line x1="666.60" y1="962.50" x2="900.00" y2="962.50" stroke="#000" stroke-width="1"/>
<line x1="666.60" y1="985.80" x2="900.00" y2="985.80" stroke="#000" stroke-width="1"/>
<line x1="666.60" y1="1009.10" x2="900.00" y2="1009.10" stroke="#000" stroke-width="1"/>
<line x1="666.60" y1="1032.40" x2="900.00" y2="1032.40" stroke="#000" stroke-width="1"/>
<line x1="666.60" y1="1055.70" x2="900.00" y2="1055.70" stroke="#000" stroke-width="1"/>
<line x1="666.60" y1="1079.00" x2="900.00" y2="1079.00" stroke="#000" stroke-width="1"/>
<line x1="666.60" y1="1102.30" x2="900.00" y2="1102.30" stroke="#000" stroke-width="1"/>
<line x1="666.60" y1="1125.60" x2="900.00" y2="1125.60" stroke="#000" stroke-width="1"/>
<line x1="666.60" y1="1148.90" x2="900.00" y2="1148.90" stroke="#000" stroke-width="1"/>
<rect x="812.50" y="1010.50" width="73.75" height="44.25" fill="#fff"/>
<rect x="666.60" y="939.20" width="233.40" height="233.00" fill="none" stroke="#000" stroke-width="1.15"/>
<path d="M666.60,952.90 C672.17,953.00 690.27,953.15 700.00,953.50 C709.73,953.85 717.92,954.50 725.00,955.00 C732.08,955.50 736.67,955.95 742.50,956.50 C748.33,957.05 753.21,957.55 760.00,958.30 C766.79,959.05 777.42,960.17 783.25,961.00 C789.08,961.83 791.38,962.26 795.00,963.30 C798.62,964.34 800.83,965.34 805.00,967.25 C809.17,969.16 813.88,972.25 820.00,974.75 C826.12,977.25 835.08,979.96 841.75,982.25 C848.42,984.54 854.46,986.08 860.00,988.50 C865.54,990.92 870.00,994.33 875.00,996.75 C880.00,999.17 885.83,1001.54 890.00,1003.00 C894.17,1004.46 898.33,1005.08 900.00,1005.50" fill="none" stroke="#000" stroke-width="3.1" stroke-linejoin="round"/>
<text x="659.10" y="943.00" textLength="20.93" lengthAdjust="spacingAndGlyphs" font-size="13" text-anchor="end" fill="#1c1c1c" stroke="#1c1c1c" stroke-width="0.22">100</text>
<text x="659.10" y="966.30" textLength="13.95" lengthAdjust="spacingAndGlyphs" font-size="13" text-anchor="end" fill="#1c1c1c" stroke="#1c1c1c" stroke-width="0.22">90</text>
<text x="659.10" y="989.60" textLength="13.95" lengthAdjust="spacingAndGlyphs" font-size="13" text-anchor="end" fill="#1c1c1c" stroke="#1c1c1c" stroke-width="0.22">80</text>
<text x="659.10" y="1012.90" textLength="13.95" lengthAdjust="spacingAndGlyphs" font-size="13" text-anchor="end" fill="#1c1c1c" stroke="#1c1c1c" stroke-width="0.22">70</text>
<text x="659.10" y="1036.20" textLength="13.95" lengthAdjust="spacingAndGlyphs" font-size="13" text-anchor="end" fill="#1c1c1c" stroke="#1c1c1c" stroke-width="0.22">60</text>
<text x="659.10" y="1059.50" textLength="13.95" lengthAdjust="spacingAndGlyphs" font-size="13" text-anchor="end" fill="#1c1c1c" stroke="#1c1c1c" stroke-width="0.22">50</text>
<text x="659.10" y="1082.80" textLength="13.95" lengthAdjust="spacingAndGlyphs" font-size="13" text-anchor="end" fill="#1c1c1c" stroke="#1c1c1c" stroke-width="0.22">40</text>
<text x="659.10" y="1106.10" textLength="13.95" lengthAdjust="spacingAndGlyphs" font-size="13" text-anchor="end" fill="#1c1c1c" stroke="#1c1c1c" stroke-width="0.22">30</text>
<text x="659.10" y="1129.40" textLength="13.95" lengthAdjust="spacingAndGlyphs" font-size="13" text-anchor="end" fill="#1c1c1c" stroke="#1c1c1c" stroke-width="0.22">20</text>
<text x="659.10" y="1152.70" textLength="13.95" lengthAdjust="spacingAndGlyphs" font-size="13" text-anchor="end" fill="#1c1c1c" stroke="#1c1c1c" stroke-width="0.22">10</text>
<text x="659.10" y="1176.00" textLength="6.98" lengthAdjust="spacingAndGlyphs" font-size="13" text-anchor="end" fill="#1c1c1c" stroke="#1c1c1c" stroke-width="0.22">0</text>
<text x="667.50" y="1192.20" textLength="13.95" lengthAdjust="spacingAndGlyphs" font-size="13" text-anchor="middle" fill="#1c1c1c" stroke="#1c1c1c" stroke-width="0.22">10</text>
<text x="724.50" y="1193.00" textLength="20.93" lengthAdjust="spacingAndGlyphs" font-size="13" text-anchor="middle" fill="#1c1c1c" stroke="#1c1c1c" stroke-width="0.22">100</text>
<text x="783.10" y="1193.00" textLength="13.25" lengthAdjust="spacingAndGlyphs" font-size="13" text-anchor="middle" fill="#1c1c1c" stroke="#1c1c1c" stroke-width="0.22">1k</text>
<text x="841.00" y="1193.00" textLength="20.23" lengthAdjust="spacingAndGlyphs" font-size="13" text-anchor="middle" fill="#1c1c1c" stroke="#1c1c1c" stroke-width="0.22">10k</text>
<text x="900.30" y="1193.00" textLength="27.20" lengthAdjust="spacingAndGlyphs" font-size="13" text-anchor="middle" fill="#1c1c1c" stroke="#1c1c1c" stroke-width="0.22">100k</text>
<text y="1223.00" font-size="14" fill="#1c1c1c" stroke="#1c1c1c" stroke-width="0.3" letter-spacing="1.5"><tspan x="732.70" textLength="68.97" lengthAdjust="spacingAndGlyphs">FREQUENCY</tspan> <tspan x="808.20" textLength="26.73" lengthAdjust="spacingAndGlyphs">(Hz)</tspan></text>
<text transform="translate(613.25,1087.15) rotate(-90)" y="0" font-size="14.2" fill="#1c1c1c" stroke="#1c1c1c" stroke-width="0.3" letter-spacing="1.5"><tspan x="0.00" textLength="31.57" lengthAdjust="spacingAndGlyphs">CMRR</tspan> <tspan x="37.50" textLength="26.57" lengthAdjust="spacingAndGlyphs">(dB)</tspan></text>
<text xml:space="preserve" transform="translate(0,1024.25) scale(0.78,1)" x="1052.63 1062.37 1071.47 1081.09 1090.06 1100.06 1111.73 1122.88" y="0.00 4.60 0.00 0.00 0.00 0.00 0.00 0.00" font-size="13.2" text-anchor="middle" fill="#1c1c1c" stroke="#1c1c1c" stroke-width="0.3">V<tspan font-size="11.6">S</tspan> = 15V</text>
<text xml:space="preserve" transform="translate(0,1045.25) scale(0.78,1)" x="1052.44 1060.00 1069.36 1079.10 1088.59 1098.33 1105.26 1112.18 1124.49" y="0.00 4.60 0.00 0.00 0.00 0.00 0.00 0.00 0.00" font-size="13.2" text-anchor="middle" fill="#1c1c1c" stroke="#1c1c1c" stroke-width="0.3">R<tspan font-size="11.6">L</tspan> = 5 kΩ</text>
</svg>
</body></html>
